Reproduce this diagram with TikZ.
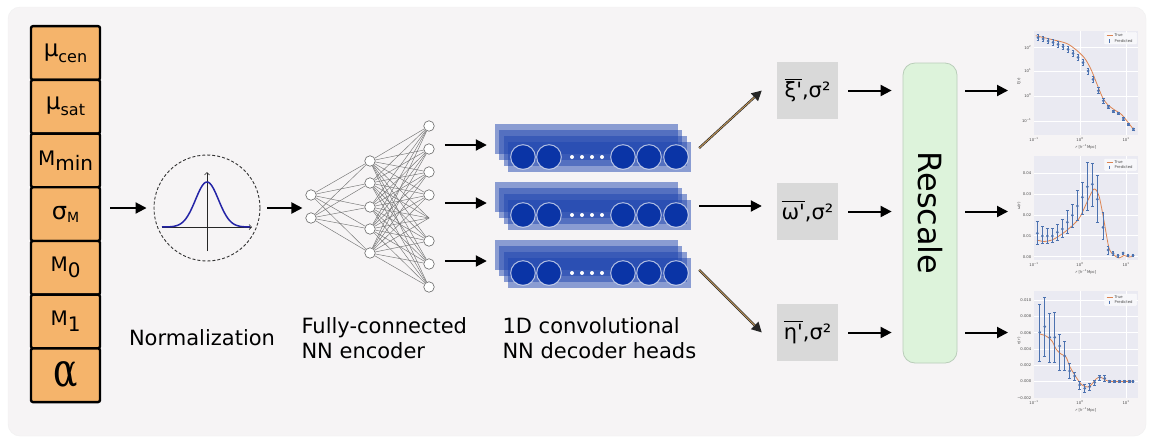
\documentclass[tikz,border=0pt]{standalone}
\usepackage{fontspec}
\usepackage{graphicx}
\setmainfont{DejaVu Sans}
\newfontfamily\serifgrec{DejaVu Serif}
\usetikzlibrary{arrows.meta,positioning}

\definecolor{fond}{HTML}{F6F4F5}
\definecolor{sable}{HTML}{F5B46B}
\definecolor{bleudec}{HTML}{1F45B0}
\definecolor{bleurond}{HTML}{0A34A6}
\definecolor{gauss}{HTML}{2424A6}
\definecolor{grisboite}{HTML}{D9D9D9}
\definecolor{vertpale}{HTML}{DDF3DB}
\definecolor{vertbord}{HTML}{B9CDB9}
\definecolor{fondgraphe}{HTML}{EAEAF2}
\definecolor{sbbleu}{HTML}{4C72B0}
\definecolor{sborange}{HTML}{DD8452}
\definecolor{cuivre}{HTML}{C89A5A}

% parametre avec indice abaisse
\newcommand{\param}[5]{{\fontsize{#1}{#1}\selectfont #2}\raisebox{-#3pt}{\fontsize{#4}{#4}\selectfont #5}}
% grandeur moyenne
\newcommand{\moy}[1]{$\overline{\rule{0pt}{16.5pt}\mbox{#1\textquotesingle}}$,σ²}

% barres d'erreur et points
\newcommand{\mesures}[1]{%
  \foreach \ex/\ey/\elo/\ehi in {#1} {
    \draw[barre] (\ex,\elo) -- (\ex,\ehi) (\ex-1.4,\elo) -- (\ex+1.4,\elo) (\ex-1.4,\ehi) -- (\ex+1.4,\ehi);
    \fill[sbbleu] (\ex,\ey) circle (1.5);
  }}

% axes, titres et legende d'un graphe
\newcommand{\axesgraphe}[3]{%
  \foreach \g in {46,92} \draw[grille] (\g,0) -- (\g,#1);
  \foreach \g/\t in {0/{10\textsuperscript{−1}},46/{10\textsuperscript{0}},92/{10\textsuperscript{1}}}
    \node[graduation, anchor=north] at (\g,#1+2) {\t};
  \node[graduation] at (52,#1+12) {\textit{r} [\textit{h}\textsuperscript{−1}Mpc]};
  \node[graduation, rotate=90] at (-15,50) {#2};
  \filldraw[fill=fondgraphe!40!white, draw=white, line width=0.3pt, rounded corners=0.8pt] (70.5,#3) rectangle (102.5,#3+11.5);
  \draw[vrai] (72.5,#3+3) -- (78.5,#3+3);
  \node[graduation, anchor=west] at (80,#3+3) {True};
  \draw[barre] (75.5,#3+6.6) -- (75.5,#3+10);
  \fill[sbbleu] (74.7,#3+7.5) rectangle (76.3,#3+9.1);
  \node[graduation, anchor=west] at (80,#3+8.3) {Predicted};
}

\tikzset{
  fleche/.style={line width=2pt, -{Triangle[length=11pt,width=11pt]}},
  case/.style={draw, line width=2.4pt, fill=sable, rounded corners=2pt, minimum width=69pt, minimum height=53.7pt, inner sep=0pt},
  normcercle/.style={circle, draw=black!80, dash pattern=on 3pt off 2pt, line width=0.9pt, minimum size=106pt},
  axe/.style={black!85, line width=0.7pt, -{Straight Barb[length=2.5pt,width=5pt]}},
  neurone/.style={circle, draw=black!60, fill=white, line width=0.6pt, minimum size=10.5pt, inner sep=0pt},
  lien/.style={black!55, line width=0.45pt},
  pile/.style={minimum width=196pt, minimum height=48pt, inner sep=0pt},
  rond/.style={fill=bleurond, draw=white, draw opacity=0.65, line width=1pt},
  sortie/.style={fill=grisboite, minimum width=61pt, minimum height=57pt, inner sep=0pt},
  diagbord/.style={line width=2.2pt, black!85, -{Triangle[length=10pt,width=10pt]}},
  diagcoeur/.style={line width=0.9pt, cuivre, shorten >=10pt},
  cadregraphe/.style={fill=fondgraphe, inner sep=0pt, outer sep=0pt, anchor=north west},
  grille/.style={white, line width=0.6pt},
  vrai/.style={sborange, line width=0.8pt},
  barre/.style={sbbleu, line width=0.6pt},
  graduation/.style={font=\fontsize{3.8}{4}\selectfont, text=black!70, inner sep=0.5pt},
}

\begin{document}
\begin{tikzpicture}[x=1pt, y=-1pt, font=\fontsize{21}{25}\selectfont]
\useasboundingbox (0,0) rectangle (1151,440);
\fill[white] (0,0) rectangle (1151,440);
\filldraw[fill=fond, draw=black!6, rounded corners=12pt] (8,7) rectangle (1146,436);

% colonne des parametres
\foreach \lab [count=\i] in {{\param{23}{μ}{6}{16}{cen}}, {\param{23}{μ}{6}{16}{sat}},
    {\param{20}{M}{5}{20}{min}}, {\param{24}{σ}{3}{14}{M}}, {\param{20}{M}{6}{20}{0}},
    {\param{20}{M}{6}{20}{1}}, {\scalebox{1}[1.3]{\fontsize{36}{36}\selectfont\serifgrec α}}}
  \node[case] (p\i) at (65.5,{53+53.7*(\i-1)}) {\lab};

% normalisation
\node[normcercle] (norm) at (207,208) {};
\draw[axe] (162,227) -- (252,227);
\draw[axe] (207,251) -- (207,172);
\draw[gauss, line width=1.5pt] plot[domain=-45:43, samples=80, smooth] ({207+\x},{227-45*exp(-(\x*\x)/264)});
\draw[fleche, shorten <=9pt, shorten >=7pt] (norm.west -| p4.east) -- (norm.west);

% encodeur
\foreach \y [count=\i] in {195,218} \node[neurone] (a\i) at (311,\y) {};
\foreach \y [count=\i] in {161,183,207,229,253} \node[neurone] (h\i) at (370,\y) {};
\foreach \y/\i in {126/1,149/2,172/3,195/4,241/6,264/7,287/8} \node[neurone] (o\i) at (429,\y) {};
\coordinate (o5) at (429,218);
\foreach \i in {1,2} \foreach \j in {1,...,5} \draw[lien] (a\i) -- (h\j);
\foreach \i in {1,...,5} \foreach \j in {1,...,8} \draw[lien] (h\i) -- (o\j);
\draw[fleche, shorten <=7pt, shorten >=3pt] (norm.east) -- (norm.east -| a1.west);

% decodeurs
\foreach \k/\T in {1/124,2/182,3/240} {
  \node[pile] (s\k) at (593,\T+24) {};
  \foreach \s in {0,...,3}
    \fill[bleudec, fill opacity=0.5] (495+4.4*\s,\T+6*\s) rectangle ++(183,29.5);
  \foreach \cx in {523,549,623,649,676}
    \draw[rond] (\cx,\T+33) circle (12.3);
  \foreach \cx in {572,582,592,602}
    \fill[white] (\cx,\T+33) circle (2);
  \draw[fleche] ([xshift=-50pt,yshift=3pt]s\k.west) -- ([xshift=-8pt,yshift=3pt]s\k.west);
}

\node (lnorm) at (202,338) {Normalization};
\node[anchor=west, align=left] (lenc) at (298,338) {Fully-connected\\NN encoder};
\node[anchor=west, align=left] (ldec) at (499,338) {1D convolutional\\NN decoder heads};

% sorties
\node[sortie] (xi) at (807.5,90.5) {\moy{ξ}};
\node[sortie] (om) at (807.5,211.5) {\moy{ω}};
\node[sortie] (eta) at (807.5,332.5) {\moy{η}};
\draw[diagbord] ([xshift=8pt]s1.east) -- ([xshift=-15pt]xi.west);
\draw[diagcoeur] ([xshift=8pt]s1.east) -- ([xshift=-15pt]xi.west);
\draw[fleche, shorten <=8pt, shorten >=15pt] (s2.east) -- (s2.east -| om.west);
\draw[diagbord] ([xshift=8pt,yshift=-6pt]s3.east) -- ([xshift=-15pt]eta.west);
\draw[diagcoeur] ([xshift=8pt,yshift=-6pt]s3.east) -- ([xshift=-15pt]eta.west);

\node[draw=vertbord, fill=vertpale, rounded corners=12pt, line width=0.8pt, minimum width=54pt, minimum height=300pt, inner sep=0pt] (resc) at (930,213) {\rotatebox{-90}{\fontsize{32}{32}\selectfont Rescale}};
\foreach \b in {xi,om,eta}
  \draw[fleche, shorten <=10pt, shorten >=11pt] (\b.east) -- (\b.east -| resc.west);

% graphes
\node[cadregraphe, minimum width=104pt, minimum height=104pt] (pan1) at (1034,31) {};
\begin{scope}[shift={(1034,31)}]
  \foreach \g in {16.7,40,65,90} \draw[grille] (0,\g) -- (104,\g);
  \foreach \g/\t in {16.7/{10\textsuperscript{2}},40/{10\textsuperscript{1}},65/{10\textsuperscript{0}},90/{10\textsuperscript{−1}}}
    \node[graduation, anchor=east] at (-2,\g) {\t};
  \axesgraphe{104}{ξ(\textit{r})}{1.5}
  \draw[vrai] plot[smooth] coordinates {(1.7,4.7) (15.7,8) (32.3,12.3) (42.3,19) (50.7,27.3) (57.3,39) (64,55.7) (69,67.3) (74,74) (80.7,79) (87.3,83.3) (94,91.3) (100.7,100)};
  \mesures{4/6.7/3.7/9.7, 9/8/5.3/10.7, 14/10/7.3/12.7, 19/11.3/8.7/14, 24/13.3/10.7/16, 29/15.7/13/18.3, 34/18.3/15.7/21, 39/22.3/19.7/25, 44/26.3/23.3/29.3, 49/31.7/28.7/34.7, 54/40/37/43, 59/48.3/45.3/51.3, 64.3/59.7/56.7/62.7, 69.3/69.7/67.3/72, 74.3/76/74.3/77.7, 79.3/80.3/79/81.7, 84.3/82.3/81/83.7, 89.3/88/86.7/89.3, 94.3/93.3/92/94.7, 99.3/98/97/99}
\end{scope}

\node[cadregraphe, minimum width=104pt, minimum height=104pt] (pan2) at (1034,156) {};
\begin{scope}[shift={(1034,156)}]
  \foreach \g in {17.3,38,59,79.7,100.7} \draw[grille] (0,\g) -- (104,\g);
  \foreach \g/\t in {17.3/0.04,38/0.03,59/0.02,79.7/0.01,100.7/0.00}
    \node[graduation, anchor=east] at (-2,\g) {\t};
  \axesgraphe{104}{ω(\textit{r})}{3}
  \draw[vrai] plot[smooth] coordinates {(3,84) (10,85.5) (18,84) (25,80) (32,75) (40,68) (46,61) (54,44) (60,33) (65,40) (70,65) (75,92) (80,99) (85,102) (90,99.5) (95,101) (100,100)};
  \mesures{3.3/77.3/65.7/88.3, 8.3/80/70.7/87.3, 13.3/80/72.3/87.3, 18.3/80/72.3/86.7, 23.3/76.3/68/84, 28.3/73/63.3/81.3, 33.3/66.3/54.7/77.3, 38.3/59.3/48/71.3, 43.3/50/34.7/64.7, 48.3/41.3/26.3/58, 53.3/30.7/6.7/54.7, 58.3/28.3/7.3/50.7, 63.3/43.3/19/66.7, 69/71.3/56.7/83.3, 74/94/90.7/98, 79/97.3/95.7/99.5, 84/99.7/98.5/101, 89/97/96/98, 94/99.3/98.3/100.3, 99/99.3/98.3/100.3}
\end{scope}

\node[cadregraphe, minimum width=104pt, minimum height=107pt] (pan3) at (1034,291) {};
\begin{scope}[shift={(1034,291)}]
  \foreach \g in {9,25.3,41.7,58,74.3,90.3} \draw[grille] (0,\g) -- (104,\g);
  \foreach \g/\t in {9/0.010,25.3/0.008,41.7/0.006,58/0.004,74.3/0.002,90.3/0.000,106.7/−0.002}
    \node[graduation, anchor=east] at (-2,\g) {\t};
  \axesgraphe{107}{η(\textit{r})}{3}
  \draw[vrai] plot[smooth] coordinates {(5.7,43) (12,45) (18,50) (22,58) (27,63) (32,66) (36,76) (42,86) (48,94) (54,96) (58,93) (62,88) (66,86) (70,88) (76,90.3) (99,90.3)};
  \mesures{5.7/41.3/13/70, 10.7/35.7/6.7/65.7, 15.7/46.3/22.3/71.3, 20.7/46.3/21.7/71.3, 25.7/55/43.3/79, 30.7/65/50.7/79, 35.7/80/72.3/87.3, 40.7/85/81.3/89, 45.7/94/90.7/98, 50.7/97.3/93.3/101.3, 55.7/95.7/92.3/99, 60.7/91.3/89/94.7, 65.7/86.3/84.7/89, 70.7/87.3/84.7/90.7, 75.7/90.3/89.3/91.3, 80.7/90.3/89.3/91.3, 85.7/90.3/89.3/91.3, 90.7/90.3/89.3/91.3, 95.7/90.3/89.3/91.3, 99/90.3/89.3/91.3}
\end{scope}

\foreach \b/\p in {xi/pan1,om/pan2,eta/pan3}
  \draw[fleche, shorten <=8pt, shorten >=26pt] (resc.east |- \b.east) -- (\p.west |- \b.east);
\end{tikzpicture}
\end{document}
